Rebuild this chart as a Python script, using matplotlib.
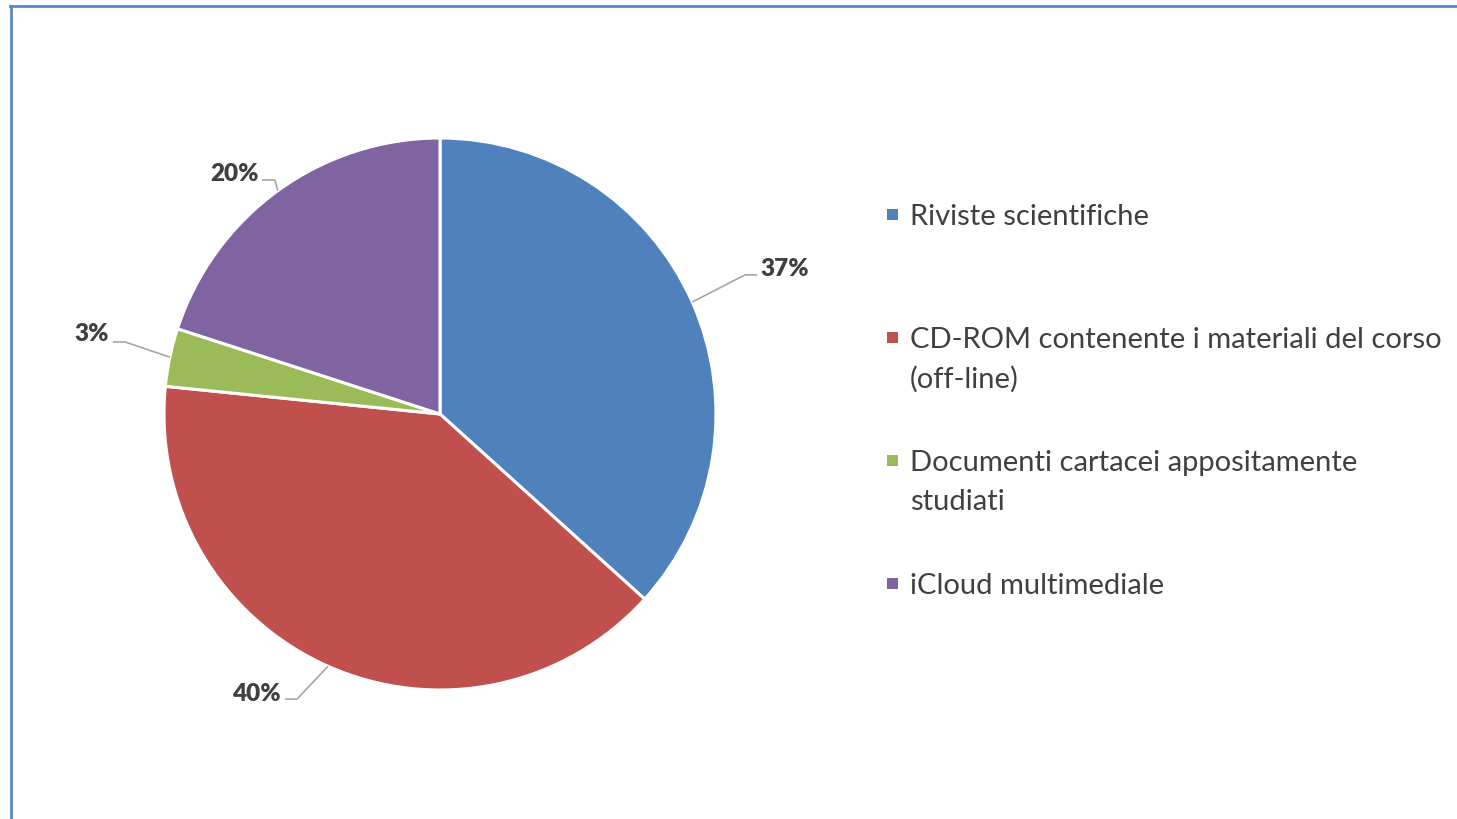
import matplotlib
matplotlib.use("Agg")
import matplotlib.pyplot as plt
from matplotlib.lines import Line2D
from matplotlib.patches import Rectangle
import numpy as np

categories = ["Riviste scientifiche",
              "CD-ROM contenente i materiali del corso\n(off-line)",
              "Documenti cartacei appositamente\nstudiati",
              "iCloud multimediale"]
values = [36.7, 39.9, 3.4, 20.0]
colors = ["#4f81bd", "#c0504d", "#9bbb59", "#8064a2"]

W, H = 1457, 820
fig = plt.figure(figsize=(W / 100, H / 100), dpi=100)
fig.patch.set_facecolor("white")

FONT = ["Lato", "DejaVu Sans"]
TXT = "#404040"

# pie axes: center (440,415) px, radius 276 px
cx, cy, R = 440, 415, 276
ax = fig.add_axes([(cx - R) / W, (H - cy - R) / H, 2 * R / W, 2 * R / H])
wedges, _ = ax.pie(values, colors=colors, startangle=90, counterclock=False,
                   radius=1.0, wedgeprops=dict(edgecolor="white", linewidth=2.2))
ax.set_xlim(-1, 1)
ax.set_ylim(-1, 1)
ax.set_aspect("equal")
ax.axis("off")

# data labels with leader lines (layout in axis units)
label_layout = [
    # (elbow, horizontal end, text pos, ha)
    ((1.105, 0.504), (1.149, 0.504), (1.160, 0.530), "left"),
    ((-0.518, -1.033), (-0.562, -1.033), (-0.577, -1.010), "right"),
    ((-1.141, 0.261), (-1.185, 0.261), (-1.200, 0.294), "right"),
    ((-0.598, 0.848), (-0.645, 0.848), (-0.656, 0.873), "right"),
]
total = sum(values)
for w, v, (elb, hend, tpos, ha) in zip(wedges, values, label_layout):
    mid = np.deg2rad((w.theta1 + w.theta2) / 2)
    ex, ey = 1.0 * np.cos(mid), 1.0 * np.sin(mid)
    ax.plot([ex, elb[0], hend[0]], [ey, elb[1], hend[1]], color="#a6a6a6",
            lw=1.2, clip_on=False, solid_capstyle="butt")
    ax.text(tpos[0], tpos[1], f"{round(100 * v / total)}%", ha=ha, va="center",
            fontsize=17.5, fontweight="heavy", color=TXT, family=FONT)

# legend drawn manually
leg_y = [215, 338, 461, 584]
line_h = 39
for c, lab, y in zip(colors, categories, leg_y):
    sq = 11
    fig.add_artist(Rectangle(((887) / W, (H - y - sq / 2) / H), sq / W, sq / H,
                             transform=fig.transFigure, facecolor=c, edgecolor="none"))
    for i, line in enumerate(lab.split("\n")):
        fig.text(910 / W, (H - y - 2 - i * line_h) / H, line, ha="left", va="center",
                 fontsize=21, color=TXT, family=FONT)

# outer border lines (top and left)
bc = "#5b87c7"
fig.add_artist(Line2D([10 / W, 1.0], [1 - 6.5 / H, 1 - 6.5 / H], color=bc, lw=2,
                      transform=fig.transFigure))
fig.add_artist(Line2D([11 / W, 11 / W], [0, 1 - 6.5 / H], color=bc, lw=2,
                      transform=fig.transFigure))

fig.savefig("out.png", dpi=100, facecolor="white")
